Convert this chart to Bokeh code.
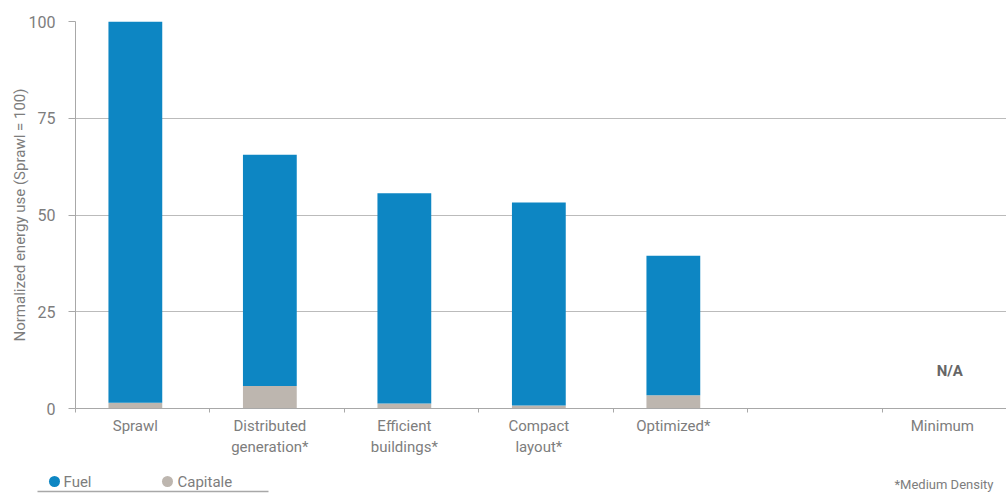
from bokeh.plotting import figure
from bokeh.layouts import column
from bokeh.models import Range1d, FixedTicker
from bokeh.core.properties import value
from bokeh.embed import file_html
from bokeh.resources import INLINE

categories = ["Sprawl", "Distributed\ngeneration*", "Efficient\nbuildings*",
              "Compact\nlayout*", "Optimized*", "", "Minimum"]
capital = [1.5, 5.8, 1.3, 0.8, 3.4]
fuel = [98.5, 59.8, 54.3, 52.4, 36.1]
y_ticks = [0, 25, 50, 75, 100]
grid_ticks = [25, 50, 75]
series_names = ["Fuel", "Capitale"]
na_text = "N/A"
note_text = "*Medium Density"

FONT = "Roboto"
FUEL_C = "#0D86C3"
CAP_C = "#BDB6AF"
TEXT_C = "#7d7d7d"
LINE_C = "#A8A8A8"

OFF = 0.445  # bar center offset from slot start
p = figure(width=1006, height=465, output_backend="svg", toolbar_location=None,
           x_range=Range1d(-OFF, 6.922 - OFF), y_range=Range1d(0, 100),
           min_border_left=75, min_border_right=0, min_border_top=21,
           min_border_bottom=57)
p.outline_line_color = None

n = len(fuel)
xs = list(range(n))
tops = [c + f for c, f in zip(capital, fuel)]
p.vbar(x=xs, width=0.4, bottom=0, top=capital, fill_color=CAP_C, line_color=None)
p.vbar(x=xs, width=0.4, bottom=capital, top=tops, fill_color=FUEL_C, line_color=None)

# x axis
p.xaxis.ticker = FixedTicker(ticks=list(range(len(categories))),
                             minor_ticks=[i - OFF for i in range(len(categories))])
p.xaxis.major_label_overrides = {i: c for i, c in enumerate(categories)}
p.xaxis.major_tick_line_color = None
p.xaxis.major_tick_out = 0
p.xaxis.major_tick_in = 0
p.xaxis.minor_tick_line_color = LINE_C
p.xaxis.minor_tick_out = 4
p.xaxis.minor_tick_in = 0
p.xaxis.axis_line_color = LINE_C
p.xaxis.major_label_text_font = FONT
p.xaxis.major_label_text_font_size = "15px"
p.xaxis.major_label_text_color = TEXT_C
p.xaxis.major_label_standoff = 4

# y axis
p.yaxis.ticker = FixedTicker(ticks=y_ticks, minor_ticks=[])
p.yaxis.major_tick_out = 7
p.yaxis.major_tick_in = 0
p.yaxis.major_tick_line_color = LINE_C
p.yaxis.axis_line_color = LINE_C
p.yaxis.major_label_text_font = FONT
p.yaxis.major_label_text_font_size = "16px"
p.yaxis.major_label_text_color = TEXT_C
p.yaxis.major_label_standoff = 13
p.yaxis.axis_label = "Normalized energy use (Sprawl = 100)"
p.yaxis.axis_label_text_font = FONT
p.yaxis.axis_label_text_font_size = "15px"
p.yaxis.axis_label_text_font_style = "normal"
p.yaxis.axis_label_text_color = TEXT_C
p.yaxis.axis_label_standoff = -3

p.xgrid.visible = False
p.ygrid.ticker = FixedTicker(ticks=grid_ticks)
p.ygrid.grid_line_color = "#BBBBBB"

# N/A marker for the "Minimum" category
p.text(x=[6.5 - OFF], y=[9.8], text=[na_text], text_font=value(FONT),
       text_font_size="15px", text_font_style="bold", text_color="#666666",
       text_align="center", text_baseline="middle")

# footer: legend + note, in pixel coordinates of the window
f = figure(width=1006, height=30, output_backend="svg", toolbar_location=None,
           x_range=Range1d(0, 1006), y_range=Range1d(30, 0),
           x_axis_location=None, y_axis_location=None,
           min_border=0, min_border_left=0, min_border_right=0,
           min_border_top=0, min_border_bottom=0)
for fig in (p, f):
    try:
        fig.frame_align = False
    except Exception:
        pass
f.grid.visible = False
f.outline_line_color = None

f.scatter(x=[54, 167], y=[16, 16], size=11, fill_color=[FUEL_C, CAP_C], line_color=None)
f.text(x=[63, 177], y=[16, 16], text=series_names, text_font=value(FONT),
       text_font_size="15px", text_color=TEXT_C, text_align="left",
       text_baseline="middle")
f.segment(x0=[37], y0=[26], x1=[268], y1=[26], line_color=LINE_C, line_width=1.5)
f.text(x=[993], y=[19], text=[note_text], text_font=value(FONT),
       text_font_size="13px", text_color=TEXT_C, text_align="right",
       text_baseline="middle")

layout = column(p, f, spacing=0)
open("out.html", "w").write(file_html(layout, INLINE))
